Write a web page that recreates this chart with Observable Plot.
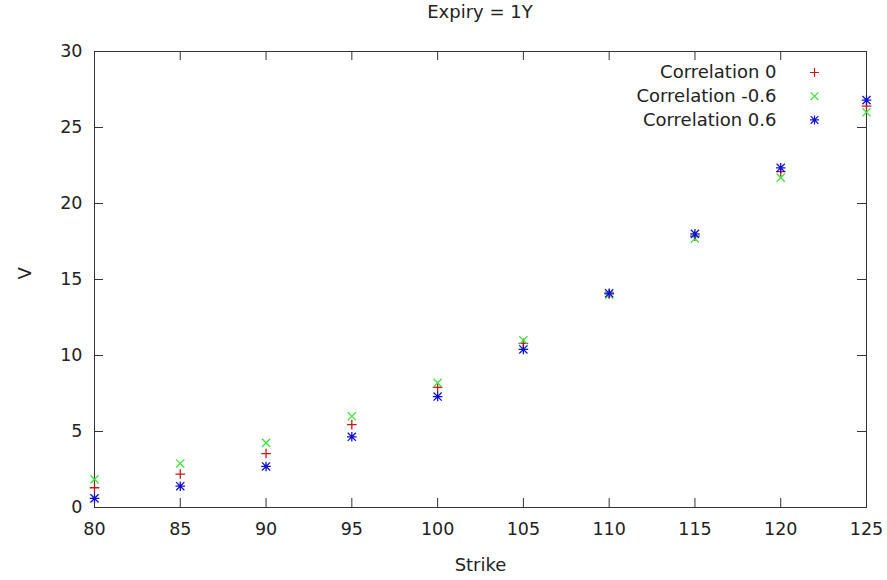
<!DOCTYPE html>
<html><head><meta charset="utf-8">
<script src="https://cdn.jsdelivr.net/npm/d3@7"></script>
<script src="https://cdn.jsdelivr.net/npm/@observablehq/plot@0.6"></script>
<style>
body{margin:0;background:#fff;font-family:"DejaVu Sans",sans-serif;}
#title{height:27px;line-height:24px;padding-left:73px;text-align:center;font-size:18px;color:#222;}
</style></head>
<body>
<div id="title">Expiry = 1Y</div>
<div id="chart"></div>
<script>
const strikes = [80, 85, 90, 95, 100, 105, 110, 115, 120, 125];
const corr0 = [1.3, 2.2, 3.55, 5.45, 7.9, 10.8, 14.05, 17.85, 22.1, 26.4];
const corrNeg06 = [1.85, 2.9, 4.25, 6.0, 8.2, 11.0, 14.0, 17.7, 21.7, 26.0];
const corrPos06 = [0.6, 1.4, 2.7, 4.65, 7.3, 10.4, 14.1, 18.0, 22.35, 26.8];
const seriesNames = ["Correlation 0", "Correlation -0.6", "Correlation 0.6"];
const seriesValues = [corr0, corrNeg06, corrPos06];
const seriesColors = ["#c81818", "#40e040", "#1010d0"];
const xTicks = [80, 85, 90, 95, 100, 105, 110, 115, 120, 125];
const yTicks = [0, 5, 10, 15, 20, 25, 30];

// gnuplot-style point types: plus, cross, star (plus + cross)
const gpPlus = {draw(ctx, size) { const h = Math.sqrt(size / Math.PI); ctx.moveTo(-h, 0); ctx.lineTo(h, 0); ctx.moveTo(0, -h); ctx.lineTo(0, h); }};
const gpCross = {draw(ctx, size) { const h = Math.sqrt(size / Math.PI) * 0.85; ctx.moveTo(-h, -h); ctx.lineTo(h, h); ctx.moveTo(-h, h); ctx.lineTo(h, -h); }};
const gpStar = {draw(ctx, size) { const h = Math.sqrt(size / Math.PI); const d = h * 0.85;
  ctx.moveTo(-h, 0); ctx.lineTo(h, 0); ctx.moveTo(0, -h); ctx.lineTo(0, h);
  ctx.moveTo(-d, -d); ctx.lineTo(d, d); ctx.moveTo(-d, d); ctx.lineTo(d, -d); }};
const seriesSymbols = [gpPlus, gpCross, gpStar];

const W = 887, H = 553, mT = 24, mB = 73, mL = 94, mR = 21;
const innerH = H - mT - mB, innerW = W - mL - mR, tick = 9;

const marks = [Plot.frame({stroke: "#333", strokeWidth: 1})];
// inward ticks on all four sides
marks.push(Plot.ruleX(xTicks, {x: d => d, insetTop: innerH - tick, stroke: "#333"}));
marks.push(Plot.ruleX(xTicks, {x: d => d, insetBottom: innerH - tick, stroke: "#333"}));
marks.push(Plot.ruleY(yTicks, {y: d => d, insetRight: innerW - tick, stroke: "#333"}));
marks.push(Plot.ruleY(yTicks, {y: d => d, insetLeft: innerW - tick, stroke: "#333"}));
// tick labels
marks.push(Plot.axisX(xTicks, {anchor: "bottom", tickSize: 0, tickPadding: 15, label: null, fill: "#222", fontSize: 17.5}));
marks.push(Plot.axisY(yTicks, {anchor: "left", tickSize: 0, tickPadding: 12, label: null, fill: "#222", fontSize: 17.5}));
// axis titles
marks.push(Plot.text(["Strike"], {frameAnchor: "bottom", lineAnchor: "middle", dy: 58, fontSize: 18, fill: "#222"}));
marks.push(Plot.text(["V"], {frameAnchor: "left", lineAnchor: "middle", dx: -69, rotate: -90, fontSize: 18, fill: "#222"}));

seriesNames.forEach((name, i) => {
  const data = strikes.map((s, j) => ({strike: s, v: seriesValues[i][j]}));
  marks.push(Plot.dot(data, {x: "strike", y: "v", symbol: seriesSymbols[i], stroke: seriesColors[i], r: 4.8, strokeWidth: 1.3}));
  // legend
  marks.push(Plot.text([name], {frameAnchor: "top-right", lineAnchor: "middle", dx: -90, dy: 21 + i * 23.7, textAnchor: "end", fontSize: 18, fill: "#222"}));
  marks.push(Plot.dot([name], {frameAnchor: "top-right", dx: -52, dy: 21 + i * 23.7, symbol: seriesSymbols[i], stroke: seriesColors[i], r: 4.5, strokeWidth: 1.2}));
});

const chart = Plot.plot({
  width: W,
  height: H,
  marginTop: mT,
  marginBottom: mB,
  marginLeft: mL,
  marginRight: mR,
  style: {fontFamily: "'DejaVu Sans', sans-serif", background: "#fff"},
  x: {domain: [80, 125]},
  y: {domain: [0, 30]},
  marks
});
document.getElementById("chart").appendChild(chart);
</script>
</body></html>
